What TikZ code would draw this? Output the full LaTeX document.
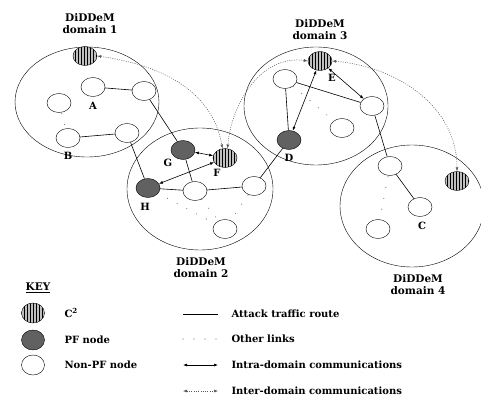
\documentclass[tikz,border=0pt]{standalone}
\usepackage{fontspec}
\setmainfont{DejaVu Serif}
\usetikzlibrary{shapes.geometric,patterns,arrows.meta}

\tikzset{
  zone/.style={draw, ellipse, inner sep=0},
  host/.style={draw, ellipse, minimum width=24, minimum height=19, inner sep=0, fill=white},
  ctrl/.style={host, fill=gray!50, postaction={pattern=vertical lines}},
  pfnode/.style={host, fill=black!62},
  route/.style={line width=0.6pt},
  other/.style={gray!80!black, line width=1.1pt, line cap=round, dash pattern=on 0pt off 11pt},
  intra/.style={{Latex[length=4pt,width=3pt]}-{Latex[length=4pt,width=3pt]}, line width=0.6pt},
  inter/.style={{Latex[length=4pt,width=3pt]}-{Latex[length=4pt,width=3pt]}, gray!70!black, line width=0.5pt, dash pattern=on 1pt off 1.3pt},
  lbl/.style={font=\bfseries\fontsize{10.5}{12}\selectfont, align=center},
  tag/.style={font=\bfseries\fontsize{10}{12}\selectfont},
  keytext/.style={anchor=west, font=\bfseries\fontsize{10}{11}\selectfont}
}

\begin{document}
\begin{tikzpicture}[x=1pt, y=-1pt]
		\useasboundingbox (0,0) rectangle (481,398);

		% domains
		\node[zone, minimum width=144, minimum height=110] (dom1) at (87,102) {};
		\node[zone, minimum width=146, minimum height=122] (dom2) at (200,189) {};
		\node[zone, minimum width=144, minimum height=118] (dom3) at (316,106) {};
		\node[zone, minimum width=144, minimum height=122] (dom4) at (412,206) {};
		\node[lbl] at (90,24) {DiDDeM\\domain 1};
		\node[lbl] at (201,268) {DiDDeM\\domain 2};
		\node[lbl] at (320,30) {DiDDeM\\domain 3};
		\node[lbl] at (418,285) {DiDDeM\\domain 4};

		% other links
		\draw[other] (59,103) -- (68,138);
		\draw[other] (148,188) -- (225,229);
		\draw[other] (195,191) -- (225,229);
		\draw[other] (254,186) -- (225,229);
		\draw[other] (285,79) -- (342,128);
		\draw[other] (390,166) -- (378,229);

		% domain 1
		\node[ctrl] (c1) at (85,56) {};
		\node[host] (a) at (93,87) {};
		\node[host] (d1r) at (144,91) {};
		\node[host] (d1l) at (59,103) {};
		\node[host] (b) at (68,138) {};
		\node[host] (d1m) at (127,133) {};
		% domain 2
		\node[pfnode] (g) at (183,150) {};
		\node[ctrl] (f) at (225,158) {};
		\node[pfnode] (h) at (148,188) {};
		\node[host] (d2m) at (195,191) {};
		\node[host] (d2r) at (254,186) {};
		\node[host] (d2b) at (225,229) {};
		% domain 3
		\node[ctrl] (e) at (320,61) {};
		\node[host] (d3l) at (285,79) {};
		\node[host] (d3r) at (372,106) {};
		\node[pfnode] (d) at (289,140) {};
		\node[host] (d3m) at (342,128) {};
		% domain 4
		\node[host] (d4t) at (390,166) {};
		\node[ctrl] (c4) at (457,181) {};
		\node[host] (c) at (420,207) {};
		\node[host] (d4b) at (378,229) {};

		\node[tag] at (93,106) {A};
		\node[tag] at (68,156) {B};
		\node[tag] at (168,163) {G};
		\node[tag] at (217,173) {F};
		\node[tag] at (145,207) {H};
		\node[tag] at (289,158) {D};
		\node[tag] at (332,78) {E};
		\node[tag] at (422,226) {C};

		% attack traffic route
		\draw[route] (a) -- (d1r);
		\draw[route] (b) -- (d1m);
		\draw[route] (d1r) -- (g);
		\draw[route] (d1m) -- (h);
		\draw[route] (g) -- (d2m);
		\draw[route] (h) -- (d2m);
		\draw[route] (d2m) -- (d2r);
		\draw[route] (d2r) -- (d);
		\draw[route] (d3l) -- (d3r);
		\draw[route] (d3l) -- (d);
		\draw[route] (d3r) -- (d4t);
		\draw[route] (d4t) -- (c);

		% intra-domain
		\draw[intra] (g) -- (f);
		\draw[intra] (h) -- (f);
		\draw[intra] (e) -- (d3r);
		\draw[intra] (e) -- (d);

		% inter-domain
		\draw[inter] (c1.east) to[out=-8, in=100] (f.105);
		\draw[inter] (e.west) to[out=172, in=85] (f.75);
		\draw[inter] (e.east) to[out=-5, in=90] (c4.north);

		% key
		\node[font=\bfseries\fontsize{10.5}{11}\selectfont] (key) at (38,288) {\underline{KEY}};
		\node[ctrl, minimum width=23, minimum height=20] (kc) at (33,313) {};
		\node[pfnode, minimum width=23, minimum height=20] (kp) at (33,340) {};
		\node[host, minimum width=23, minimum height=20] (kn) at (33,365) {};
		\node[keytext] at (61,313) {C\textsuperscript{2}};
		\node[keytext] at (61,340) {PF node};
		\node[keytext] at (61,365) {Non-PF node};

		\coordinate (l1) at (183,314);  \coordinate (r1) at (218,314);
		\coordinate (l2) at (183,339);  \coordinate (r2) at (218,339);
		\coordinate (l3) at (183,365);  \coordinate (r3) at (218,365);
		\coordinate (l4) at (183,391);  \coordinate (r4) at (218,391);
		\draw[route] (l1) -- (r1);
		\draw[other] (l2) -- (r2);
		\draw[intra] (l3) -- (r3);
		\draw[inter] (l4) -- (r4);
		\node[keytext] at (228,314) {Attack traffic route};
		\node[keytext] at (228,339) {Other links};
		\node[keytext] at (228,365) {Intra-domain communications};
		\node[keytext] at (228,391) {Inter-domain communications};
	\end{tikzpicture}
\end{document}
